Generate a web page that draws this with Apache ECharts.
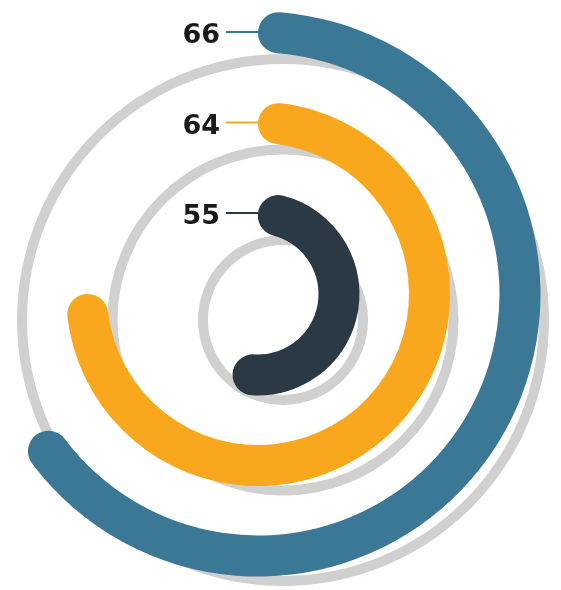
<!DOCTYPE html>
<html>
<head>
<meta charset="utf-8">
<script src="https://cdn.jsdelivr.net/npm/echarts@6/dist/echarts.min.js"></script>
<style>
html, body { margin: 0; padding: 0; background: #fff; }
#chart { width: 561px; height: 590px; }
</style>
</head>
<body>
<div id="chart"></div>
<script>
// rings, listed from the inside out
const rings = ['inner', 'middle', 'outer']
const labelValues = [55, 64, 66]
// how far each arc runs round, tip to tip, in % of a full turn
const arcSweep = [55, 75, 66]
const fullTurn = [100, 100, 100]
const ringColors = ['#2b3944', '#f9a81e', '#3a7895']

const center = [258, 294]
const shadowCenter = [283, 320]
const band = 90.5
const innerEdge = 35.75
const barWidth = 41

// echarts draws the round cap past the arc end, so pull both ends in by half a bar
const capPct = rings.map((r, i) => {
  const rMid = innerEdge + band * (i + 0.5)
  return (barWidth / 2) / rMid / (2 * Math.PI) * 100
})

const hiddenAxis = { show: false }

const option = {
  animation: false,
  polar: [
    { center: center, radius: [innerEdge, innerEdge + band * 3] },
    { center: shadowCenter, radius: [innerEdge - 1, innerEdge - 1 + band * 3] }
  ],
  angleAxis: [
    Object.assign({ polarIndex: 0, type: 'value', min: 0, max: 100, startAngle: 90, clockwise: true }, hiddenAxis),
    Object.assign({ polarIndex: 1, type: 'value', min: 0, max: 100, startAngle: 90, clockwise: true }, hiddenAxis)
  ],
  radiusAxis: [
    Object.assign({ polarIndex: 0, type: 'category', data: rings }, hiddenAxis),
    Object.assign({ polarIndex: 1, type: 'category', data: rings }, hiddenAxis)
  ],
  series: [
    {
      // grey shadow rings
      type: 'bar',
      coordinateSystem: 'polar',
      polarIndex: 1,
      barWidth: 10,
      silent: true,
      z: 1,
      itemStyle: { color: '#d0d0d0' },
      data: fullTurn
    },
    {
      type: 'bar',
      coordinateSystem: 'polar',
      polarIndex: 0,
      stack: 'arc',
      barWidth: barWidth,
      silent: true,
      z: 2,
      itemStyle: { color: 'rgba(0,0,0,0)' },
      data: capPct
    },
    {
      type: 'bar',
      coordinateSystem: 'polar',
      polarIndex: 0,
      stack: 'arc',
      roundCap: true,
      barWidth: barWidth,
      silent: true,
      z: 2,
      data: arcSweep.map((v, i) => ({
        value: v - 2 * capPct[i],
        itemStyle: { color: ringColors[i] }
      }))
    },
    {
      // value labels with their short leader lines
      type: 'scatter',
      coordinateSystem: 'polar',
      polarIndex: 0,
      silent: true,
      z: 3,
      symbol: 'rect',
      symbolSize: [32, 2],
      symbolOffset: [-16, 0],
      itemStyle: { opacity: 1 },
      data: rings.map((r, i) => ({
        value: [i, 0],
        itemStyle: { color: ringColors[i], opacity: 1 },
        label: {
          show: true,
          position: 'left',
          distance: 6,
          offset: [0, 4],
          formatter: String(labelValues[i]),
          color: '#1a1a1a',
          opacity: 1,
          fontFamily: 'DejaVu Sans',
          fontWeight: 'bold',
          fontSize: 27
        }
      }))
    }
  ]
}

const chart = echarts.init(document.getElementById('chart'))
chart.setOption(option)
</script>
</body>
</html>
